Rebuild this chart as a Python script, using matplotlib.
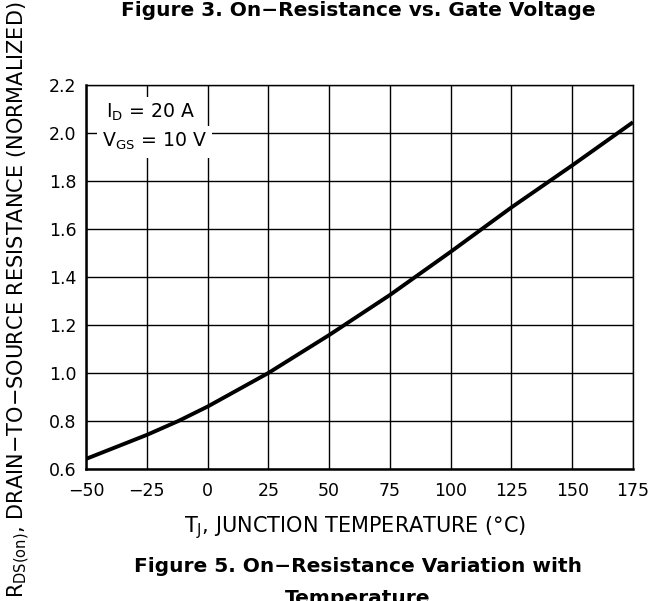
import matplotlib

matplotlib.use("Agg")
import matplotlib.pyplot as plt

plt.rcParams["font.family"] = ["DejaVu Sans"]
plt.rcParams["mathtext.default"] = "regular"

# junction temperature (degC) vs normalized R_DS(on)
temp_c = [-50, -25, -12, 0, 25, 50, 75, 100, 125, 150, 175]
r_norm = [0.642, 0.742, 0.80, 0.86, 1.0, 1.158, 1.325, 1.505, 1.69, 1.865, 2.045]

x_ticks = [-50, -25, 0, 25, 50, 75, 100, 125, 150, 175]
y_ticks = [0.6, 0.8, 1.0, 1.2, 1.4, 1.6, 1.8, 2.0, 2.2]

W, H = 653, 601


def fx(px):
    return px / W


def fy(py):
    return 1 - py / H


fig = plt.figure(figsize=(W / 100, H / 100), dpi=100)
ax = fig.add_axes([fx(86), fy(469), fx(633) - fx(86), fy(85) - fy(469)])

ax.plot(temp_c, r_norm, color="black", lw=2.8, solid_capstyle="butt",
        solid_joinstyle="round", zorder=4)

ax.set_xlim(-50, 175)
ax.set_ylim(0.6, 2.2)
ax.set_xticks(x_ticks)
ax.set_yticks(y_ticks)
ax.set_yticklabels([f"{v:.1f}" for v in y_ticks])
ax.grid(True, color="black", lw=1.0)
ax.set_axisbelow(True)
ax.tick_params(length=0, labelsize=12.5)
ax.tick_params(axis="x", pad=9)
ax.tick_params(axis="y", pad=7)
for side in ("left", "bottom"):
    ax.spines[side].set_linewidth(1.8)
for side in ("top", "right"):
    ax.spines[side].set_linewidth(1.0)

box = dict(facecolor="white", edgecolor="none", pad=4)
fig.text(fx(106), fy(118), "$I_{D}$ = 20 A", fontsize=13.6, va="baseline", ha="left",
         bbox=box, zorder=3)
fig.text(fx(102), fy(147), "$V_{GS}$ = 10 V", fontsize=13.6, va="baseline", ha="left",
         bbox=box, zorder=3)

cx = fx(358)
fig.text(cx, fy(11), "Figure 3. On\u2212Resistance vs. Gate Voltage",
         fontsize=14.5, fontweight="bold", ha="center", va="center")
fig.text(fx(355), fy(528), "T$_{J}$, JUNCTION TEMPERATURE (\u00b0C)",
         fontsize=15, ha="center", va="center")
fig.text(cx, fy(566), "Figure 5. On\u2212Resistance Variation with",
         fontsize=14.5, fontweight="bold", ha="center", va="center")
fig.text(cx, fy(599), "Temperature",
         fontsize=14.5, fontweight="bold", ha="center", va="center")
fig.text(fx(19), fy(598), "R$_{DS(on)}$, DRAIN\u2212TO\u2212SOURCE RESISTANCE (NORMALIZED)",
         fontsize=15, rotation=90, ha="center", va="bottom")

fig.savefig("out.png", dpi=100)
